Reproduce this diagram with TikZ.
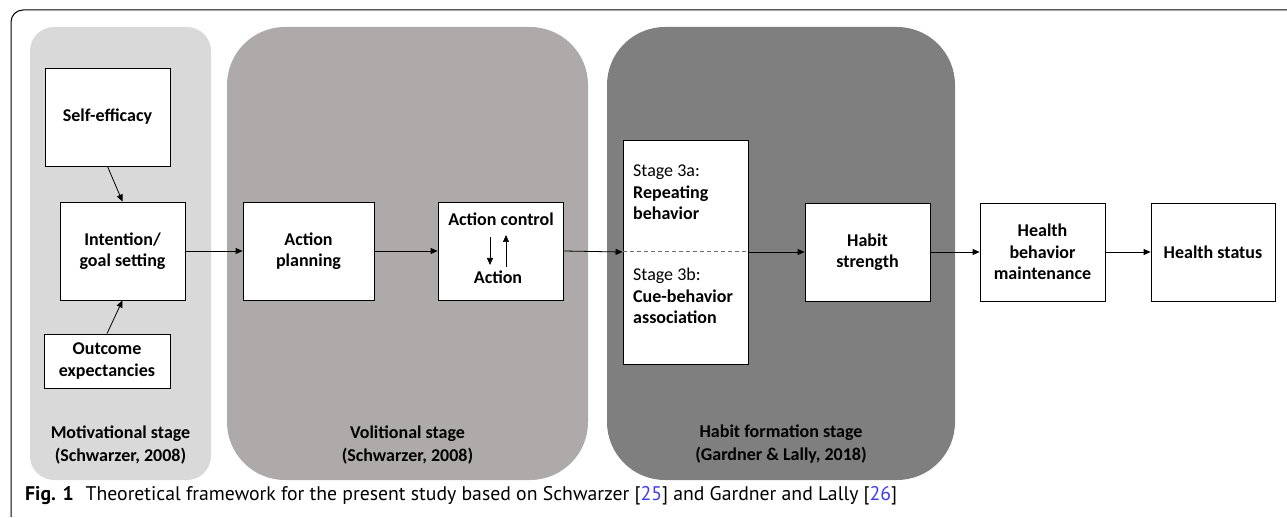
\documentclass[tikz,border=0pt]{standalone}
\usepackage{graphicx}
\usepackage{fontspec}
\setmainfont{Carlito}
\newfontfamily\capfont{PT Sans}
\usetikzlibrary{arrows.meta,calc}
\definecolor{motiv}{HTML}{D9D9D9}
\definecolor{volit}{HTML}{AEAAAA}
\definecolor{habitc}{HTML}{7F7F7F}
\definecolor{citeblue}{RGB}{60,60,235}
\definecolor{dashgray}{HTML}{6E6E6E}
\begin{document}
\begin{tikzpicture}[x=1pt,y=-1pt,
  box/.style={draw=black, line width=0.8pt, fill=white, inner sep=0pt, align=center,
    font=\fontsize{18}{21.5}\selectfont\bfseries},
  arr/.style={line width=0.8pt, -{Triangle[length=7pt,width=6pt]}},
  lbl/.style={align=center, inner sep=0pt, font=\fontsize{18}{23}\selectfont\bfseries},
  stagetxt/.style={align=left, inner sep=0pt, anchor=north west, font=\fontsize{18}{21.5}\selectfont},
  inner/.style={inner sep=0pt, anchor=base, font=\fontsize{18}{21.5}\selectfont\bfseries}
]
\useasboundingbox (0,0) rectangle (1287,518);
% outer frame (top and left sides only)
\draw[line width=1pt, rounded corners=12pt] (11,517) -- (11,10) -- (1287,10);
% stage panels
\fill[motiv, rounded corners=24pt] (30,27) rectangle (211,480);
\fill[volit, rounded corners=58pt] (227,27) rectangle (588,480);
\fill[habitc, rounded corners=58pt] (607,27) rectangle (955,480);
% boxes
\node[box, minimum width=125pt, minimum height=98pt] (self) at (107.5,117) {Self-efficacy};
\node[box, minimum width=125pt, minimum height=98pt] (intent) at (122.5,251) {Intention/\\goal setting};
\node[box, minimum width=126pt, minimum height=54pt] (outcome) at (107,361) {Outcome\\expectancies};
\node[box, minimum width=131pt, minimum height=98pt] (plan) at (308.5,251) {Action\\planning};
\node[box, minimum width=125pt, minimum height=98pt] (ctrl) at (500.5,251) {};
\node[box, minimum width=125pt, minimum height=224pt] (stage) at (685.5,252) {};
\node[box, minimum width=125pt, minimum height=98pt] (habit) at (867.5,252) {Habit\\strength};
\node[box, minimum width=125pt, minimum height=98pt] (hbm) at (1042.5,252) {Health\\behavior\\maintenance};
\node[box, minimum width=124pt, minimum height=98pt] (status) at (1213,252) {Health status};
% inside action control box
\node[inner] (ctrltxt) at (501,226) {Action control};
\node[inner] (acttxt) at (498,284) {Action};
\draw[arr, line width=0.7pt] ($(ctrltxt.base)+(-11,11)$) -- ($(acttxt.base)+(-8,-19)$);
\draw[arr, line width=0.7pt] ($(acttxt.base)+(8,-17)$) -- ($(ctrltxt.base)+(5,9)$);
% inside habit stage box
\draw[dashgray, line width=1pt, dash pattern=on 4pt off 3pt] (stage.west) -- (stage.east);
\node[stagetxt] (s3a) at (633,165) {Stage 3a:\\\textbf{Repeating}\\\textbf{behavior}};
\node[stagetxt] (s3b) at (633,268) {Stage 3b:\\\textbf{Cue-behavior}\\\textbf{association}};
% connectors
\draw[arr] (self.south) -- (intent.north);
\draw[arr] (outcome.north) -- (intent.south);
\draw[arr] (intent.east) -- (plan.west);
\draw[arr] (plan.east) -- (ctrl.west);
\draw[arr] (ctrl.east) -- (stage.west);
\draw[arr] (stage.east) -- (habit.west);
\draw[arr] (habit.east) -- (hbm.west);
\draw[arr] (hbm.east) -- (status.west);
% stage labels
\node[lbl] (motivlbl) at (120.5,445) {Motivational stage\\(Schwarzer, 2008)};
\node[lbl] (volitlbl) at (407.5,445) {Volitional stage\\(Schwarzer, 2008)};
\node[lbl] (habitlbl) at (781,444) {Habit formation stage\\(Gardner \& Lally, 2018)};
% caption
\node[anchor=base west, inner sep=0pt] (caption) at (25,500) {\resizebox{872pt}{!}{\capfont\fontsize{18}{22}\selectfont\textbf{Fig. 1}\hspace{0.6em}Theoretical framework for the present study based on Schwarzer [\textcolor{citeblue}{25}] and Gardner and Lally [\textcolor{citeblue}{26}]}};
\end{tikzpicture}
\end{document}
